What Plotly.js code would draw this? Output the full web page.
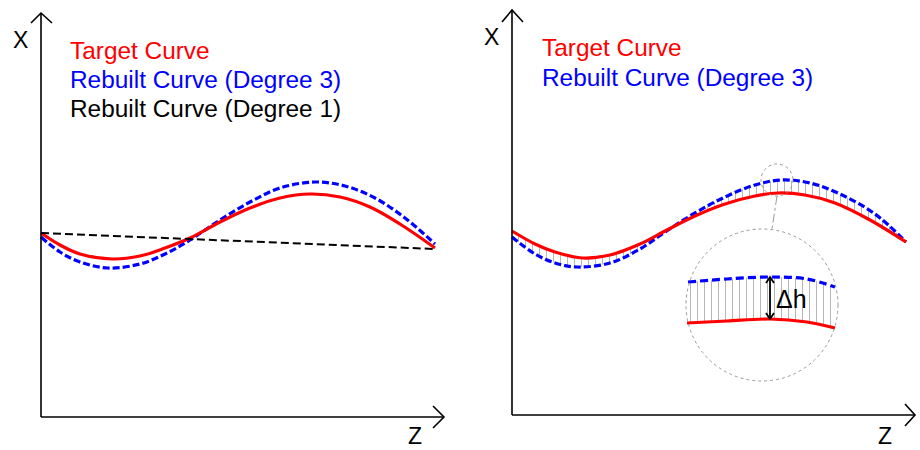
<!DOCTYPE html>
<html>
<head>
<meta charset="utf-8">
<script src="https://cdn.plot.ly/plotly-3.0.1.min.js"></script>
<style>html,body{margin:0;padding:0;background:#fff;}#chart{width:920px;height:450px;}</style>
</head>
<body>
<div id="chart"></div>
<script>
// ---- Data (units = pixels from each panel's origin) ----
// Left panel
const leftTargetZ = [0, 19, 39, 71, 99, 124, 149, 179, 209, 239, 269, 299, 329, 359, 394];
const leftTargetX = [184, 172, 163, 158, 161, 169, 179, 195, 209, 219, 223, 220, 210, 193, 169];
const leftDeg3Z   = [0, 19, 39, 67, 99, 124, 149, 179, 209, 239, 274, 304, 334, 364, 394];
const leftDeg3X   = [180, 165, 155, 149, 153, 163, 177, 197, 215, 229, 235, 231, 219, 199, 173];
const leftDeg1Z   = [0, 394];
const leftDeg1X   = [184, 168];
// Right panel
const rightTargetZ = [0, 23, 43, 71, 98, 128, 153, 183, 213, 243, 266, 293, 323, 358, 394];
const rightTargetX = [184, 171, 163, 157, 160, 171, 184, 199, 211, 219, 222, 220, 212, 195, 173];
const rightDeg3Z   = [0, 23, 43, 65, 98, 128, 153, 183, 213, 243, 269, 298, 328, 363, 394];
const rightDeg3X   = [178, 161, 152, 148, 152, 166, 183, 202, 218, 230, 235, 232, 221, 201, 173];
// Magnified inset
const insetDeg3Z   = [1, 40, 83, 120, 148];
const insetDeg3X   = [99, 102, 104, 102, 94];
const insetTargetZ = [0, 40, 83, 120, 148];
const insetTargetX = [58, 60, 62, 59, 53];
// Labels
const legendLeft  = ["Target Curve", "Rebuilt Curve (Degree 3)", "Rebuilt Curve (Degree 1)"];
const legendRight = ["Target Curve", "Rebuilt Curve (Degree 3)"];
const axisLabels  = ["X", "Z"];
const deltaLabel  = "Δh";

// ---- Styles ----
const RED = "#ff0000", BLUE = "#0000ff", BLACK = "#000000";
const FONT = "Liberation Sans, Arial, sans-serif";
const W = 920, H = 450;
const pxX = v => v / W;
const pxY = v => 1 - v / H;

const hatch = (size) => ({shape: "|", fgcolor: "#a8a8a8", bgcolor: "rgba(0,0,0,0)", size: size, solidity: 0.12});

const traces = [
  {x: leftDeg3Z, y: leftDeg3X, xaxis: "x", yaxis: "y", mode: "lines",
   line: {color: BLUE, width: 3.2, dash: "7px,3px", shape: "spline"}},
  {x: leftTargetZ, y: leftTargetX, xaxis: "x", yaxis: "y", mode: "lines",
   line: {color: RED, width: 3.2, shape: "spline"}},
  {x: leftDeg1Z, y: leftDeg1X, xaxis: "x", yaxis: "y", mode: "lines",
   line: {color: BLACK, width: 2, dash: "8px,4px"}},

  {x: rightDeg3Z, y: rightDeg3X, xaxis: "x2", yaxis: "y2", mode: "lines",
   line: {color: BLUE, width: 3.2, dash: "7px,3px", shape: "spline"}},
  {x: rightTargetZ, y: rightTargetX, xaxis: "x2", yaxis: "y2", mode: "lines",
   fill: "tonexty", fillcolor: "rgba(0,0,0,0)", fillpattern: hatch(7),
   line: {color: RED, width: 3.2, shape: "spline"}},

  {x: insetDeg3Z, y: insetDeg3X, xaxis: "x3", yaxis: "y3", mode: "lines",
   line: {color: BLUE, width: 3.2, dash: "8px,4px", shape: "spline"}},
  {x: insetTargetZ, y: insetTargetX, xaxis: "x3", yaxis: "y3", mode: "lines",
   fill: "tonexty", fillcolor: "rgba(0,0,0,0)", fillpattern: hatch(7),
   line: {color: RED, width: 3.2, shape: "spline"}}
];

const hidden = {visible: false, showgrid: false, zeroline: false, fixedrange: true};

const axisLine = {color: BLACK, width: 1.6};
const shapes = [
  // left axes
  {type: "path", xref: "x", yref: "y", path: "M 0,0 L 0,404", line: axisLine},
  {type: "path", xref: "x", yref: "y", path: "M -10,394 L 0,404 L 11,394", line: axisLine},
  {type: "path", xref: "x", yref: "y", path: "M 0,0 L 403,0", line: axisLine},
  {type: "path", xref: "x", yref: "y", path: "M 392,11 L 403,0 L 392,-11", line: axisLine},
  // right axes
  {type: "path", xref: "x2", yref: "y2", path: "M 0,0 L 0,405", line: axisLine},
  {type: "path", xref: "x2", yref: "y2", path: "M -10,393 L 0,405 L 11,393", line: axisLine},
  {type: "path", xref: "x2", yref: "y2", path: "M 0,0 L 403,0", line: axisLine},
  {type: "path", xref: "x2", yref: "y2", path: "M 393,11 L 403,0 L 393,-11", line: axisLine},
  // magnifier
  {type: "circle", xref: "x2", yref: "y2", x0: 249, x1: 281, y0: 219, y1: 251,
   line: {color: "#9a9a9a", width: 1, dash: "dot"}},
  {type: "line", xref: "x2", yref: "y2", x0: 265, y0: 219, x1: 260, y1: 186,
   line: {color: "#9a9a9a", width: 1, dash: "dashdot"}},
  {type: "circle", xref: "x2", yref: "y2", x0: 174, x1: 326, y0: 34, y1: 186,
   line: {color: "#9a9a9a", width: 1, dash: "dot"}},
  // delta h double arrow
  {type: "path", xref: "x3", yref: "y3", path: "M 83,62 L 83,104", line: {color: BLACK, width: 1.8}},
  {type: "path", xref: "x3", yref: "y3", path: "M 79,98 L 83,104 L 87,98", line: {color: BLACK, width: 1.8}},
  {type: "path", xref: "x3", yref: "y3", path: "M 79,68 L 83,62 L 87,68", line: {color: BLACK, width: 1.8}}
];

const txt = (text, x, y, color, size, xanchor, yanchor) => ({
  text: text, xref: "paper", yref: "paper", x: pxX(x), y: pxY(y),
  xanchor: xanchor || "left", yanchor: yanchor || "middle", showarrow: false, borderpad: 0,
  font: {family: FONT, size: size, color: color}
});

const annotations = [
  txt(legendLeft[0], 69, 50, RED, 24.4),
  txt(legendLeft[1], 69, 79, BLUE, 24.4),
  txt(legendLeft[2], 69, 108, BLACK, 24.4),
  txt(legendRight[0], 541, 47, RED, 24.4),
  txt(legendRight[1], 541, 77, BLUE, 24.4),
  txt(axisLabels[0], 20, 40, BLACK, 23, "center"),
  txt(axisLabels[1], 415, 450, BLACK, 23, "center", "bottom"),
  txt(axisLabels[0], 491, 37, BLACK, 23, "center"),
  txt(axisLabels[1], 885, 450, BLACK, 23, "center", "bottom"),
  {text: deltaLabel, xref: "x3", yref: "y3", x: 87, y: 82, xanchor: "left", yanchor: "middle",
   showarrow: false, font: {family: FONT, size: 25, color: BLACK}}
];

const layout = {
  width: W, height: H,
  margin: {l: 0, r: 0, t: 0, b: 0},
  paper_bgcolor: "#ffffff", plot_bgcolor: "rgba(0,0,0,0)",
  showlegend: false,
  xaxis:  Object.assign({domain: [21 / W, 461 / W], range: [-20, 420], anchor: "y"}, hidden),
  yaxis:  Object.assign({domain: [pxY(440), 1], range: [-23, 417], anchor: "x"}, hidden),
  xaxis2: Object.assign({domain: [480 / W, 1], range: [-32, 408], anchor: "y2"}, hidden),
  yaxis2: Object.assign({domain: [pxY(440), 1], range: [-25, 415], anchor: "x2"}, hidden),
  xaxis3: Object.assign({domain: [687 / W, 838 / W], range: [0, 151], anchor: "y3"}, hidden),
  yaxis3: Object.assign({domain: [pxY(381), pxY(229)], range: [0, 152], anchor: "x3"}, hidden),
  shapes: shapes,
  annotations: annotations
};

Plotly.newPlot("chart", traces, layout, {displayModeBar: false, staticPlot: true});
</script>
</body>
</html>
